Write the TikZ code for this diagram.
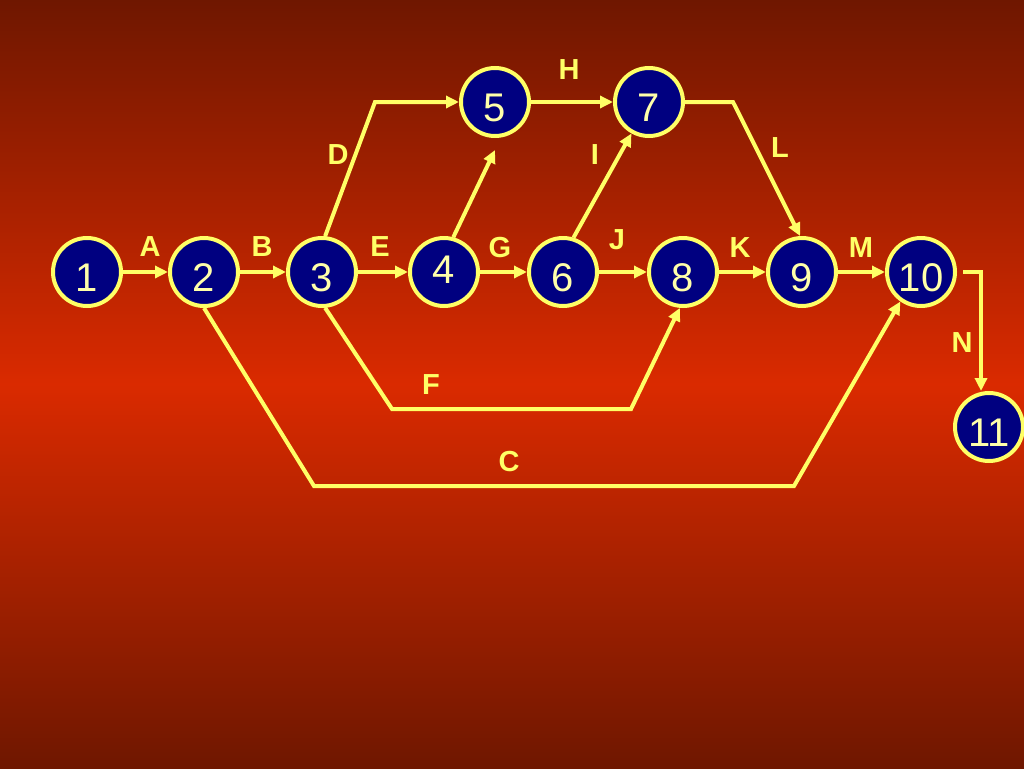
\documentclass[tikz,border=0pt]{standalone}
\usepackage{fontspec}
\setmainfont{Liberation Sans}
\usetikzlibrary{arrows.meta,calc}
\definecolor{bgdark}{RGB}{111,23,0}
\definecolor{bgmid}{RGB}{218,42,0}
\definecolor{lineyel}{RGB}{255,255,102}
\definecolor{navyfill}{RGB}{0,0,128}
\definecolor{digityel}{RGB}{255,255,170}
\tikzset{
  evt/.style={circle, draw=lineyel, line width=4pt, fill=navyfill, minimum size=68pt, inner sep=0pt,
    text=digityel, font=\fontsize{40}{40}\selectfont, text height=38pt, text depth=0pt},
  lab/.style={text=lineyel, font=\bfseries\fontsize{29}{29}\selectfont, inner sep=0pt},
  arr/.style={draw=lineyel, line width=4pt, line join=miter, -{Triangle[length=13pt,width=12pt]}},
}
\begin{document}
\begin{tikzpicture}[x=1pt,y=-1pt]
\shade[top color=bgdark, bottom color=bgdark, middle color=bgmid] (0,0) rectangle (1024,768);
\useasboundingbox (0,0) rectangle (1024,768);
% events
\node[evt] (n1) at (87,272) {1};
\node[evt] (n2) at (204,272) {2};
\node[evt] (n3) at (322,272) {3};
\node[evt, text height=22pt] (n4) at (444,272) {4};
\node[evt] (n5) at (495,102) {5};
\node[evt] (n6) at (563,272) {6};
\node[evt] (n7) at (649,102) {7};
\node[evt] (n8) at (683,272) {8};
\node[evt] (n9) at (802,272) {9};
\node[evt] (n10) at (921,272) {10};
\node[evt] (n11) at (989,427) {11};
% bend points
\coordinate (d1) at (375,102);
\coordinate (t45) at (495,150);
\coordinate (l1) at (733,102);
\coordinate (f1) at (392,409);
\coordinate (f2) at (631,409);
\coordinate (c1) at (314,486);
\coordinate (c2) at (794,486);
% activities
\draw[arr] (n1) -- (n2);
\draw[arr] (n2) -- (n3);
\draw[arr] (n3) -- (n4);
\draw[arr] (n4) -- (n6);
\draw[arr] (n6) -- (n8);
\draw[arr] (n8) -- (n9);
\draw[arr] (n9) -- (n10);
\draw[arr] (n3.85) -- (d1) -- (n5);
\draw[arr] (n4.75) -- (t45);
\draw[arr] (n5) -- (n7);
\draw[arr] (n6.73) -- (n7);
\draw[arr] (n7) -- (l1) -- (n9.93);
\draw[arr] (n3.-85) -- (f1) -- (f2) -- (n8.-95);
\draw[arr] (n2.south) -- (c1) -- (c2) -- (n10.235);
\draw[arr] ([xshift=6pt]n10.east) -| ([xshift=-8pt]n11.north);
% labels
\node[lab] (lA) at (150,247) {A};
\node[lab] (lB) at (262,247) {B};
\node[lab] (lC) at (509,462) {C};
\node[lab] (lD) at (338,155) {D};
\node[lab] (lE) at (380,247) {E};
\node[lab] (lF) at (431,385) {F};
\node[lab] (lG) at (500,248) {G};
\node[lab] (lH) at (569,70) {H};
\node[lab] (lI) at (595,155) {I};
\node[lab] (lJ) at (617,240) {J};
\node[lab] (lK) at (740,248) {K};
\node[lab] (lL) at (780,148) {L};
\node[lab] (lM) at (861,248) {M};
\node[lab] (lN) at (962,343) {N};
\end{tikzpicture}
\end{document}
